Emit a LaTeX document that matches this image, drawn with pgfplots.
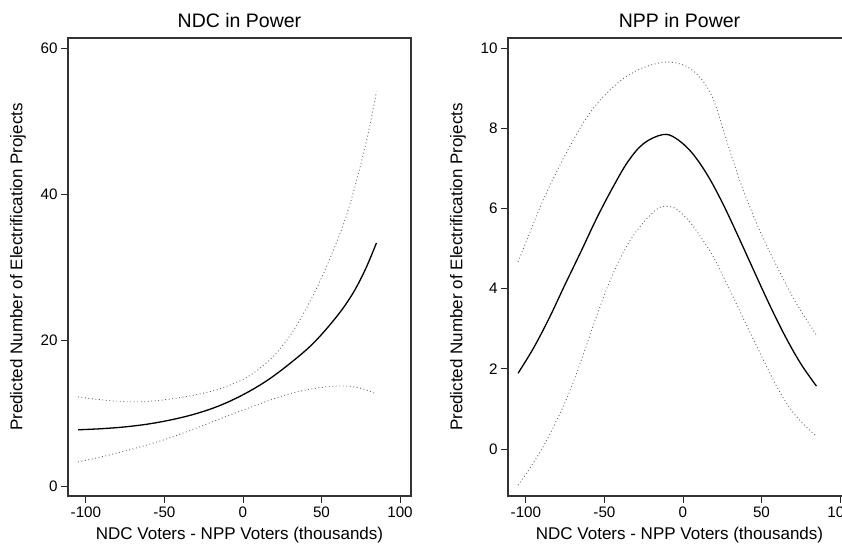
\documentclass[border=0pt]{standalone}
\usepackage{fontspec}
\setmainfont{Liberation Sans}
\usepackage{pgfplots}
\pgfplotsset{compat=1.18}

% predicted counts and 95% bounds
\pgfplotstableread{
x    fit
-105 7.7
-90  7.85
-75  8.1
-60  8.5
-45  9.1
-30  9.9
-15  11.0
0    12.5
15   14.4
30   16.8
45   19.6
60   23.3
70   26.4
78   29.7
85   33.3
}\ndcfit

\pgfplotstableread{
x    hi
-105 12.2
-90  11.8
-75  11.55
-60  11.6
-45  11.95
-30  12.5
-15  13.3
0    14.6
10   16.0
20   17.9
30   20.6
40   24.2
50   28.5
60   33.6
67   37.8
74   43.2
80   48.6
85   54.0
}\ndchi

\pgfplotstableread{
x    lo
-105 3.3
-90  4.0
-75  4.8
-60  5.7
-48  6.5
-35  7.5
-20  8.75
-5   10.0
5    10.8
19   11.9
30   12.65
40   13.15
50   13.5
60   13.7
70   13.6
78   13.2
85   12.6
}\ndclo

\pgfplotstableread{
x    fit
-105 1.89
-95  2.53
-85  3.28
-75  4.11
-65  4.92
-55  5.75
-45  6.5
-35  7.17
-25  7.62
-13  7.84
-5   7.76
5    7.42
15   6.87
25   6.15
35   5.32
45   4.46
55   3.61
65   2.82
75   2.13
85   1.57
}\nppfit

\pgfplotstableread{
x    hi
-105 4.67
-97  5.45
-89  6.21
-80  6.95
-72  7.55
-64  8.1
-56  8.55
-46  8.97
-36  9.29
-24  9.53
-11  9.65
0    9.58
8    9.38
15   9.05
20   8.65
25   8.05
30   7.42
35   6.83
40   6.29
50   5.35
61   4.46
72   3.65
85   2.84
}\npphi

\pgfplotstableread{
x    lo
-105 -0.9
-97  -0.45
-89  0.06
-80  0.75
-72  1.45
-64  2.3
-56  3.2
-48  4.05
-40  4.75
-32  5.3
-24  5.7
-16  6.0
-10  6.05
-4   5.98
4    5.68
12   5.25
20   4.75
30   3.95
40   3.13
50   2.32
61   1.47
72   0.82
85   0.32
}\npplo

\pgfplotsset{
  panel/.style={
    scale only axis, width=343pt, height=458pt,
    anchor=south west,
    xmin=-111.4, xmax=107,
    xtick={-100,-50,0,50,100},
    xticklabels={-100,-50,0,50,100},
    tick align=outside, xtick pos=bottom, ytick pos=left,
    major tick length=7pt,
    tick style={black!85, line width=0.9pt},
    axis line style={black!80, line width=1.1pt},
    ticklabel style={font=\fontsize{15.2}{17}\selectfont},
    label style={font=\fontsize{17}{20}\selectfont},
    title style={font=\fontsize{19.5}{23}\selectfont, at={(axis description cs:0.5,1.009)}, anchor=base},
    xlabel style={at={(axis description cs:0.5,-0.096)}, anchor=base},
    ylabel style={at={(axis description cs:-0.146,0.5)}, anchor=center},
    xlabel={NDC Voters - NPP Voters (thousands)},
    ylabel={Predicted Number of Electrification Projects},
  },
  fitline/.style={black, line width=1.3pt, smooth, tension=0.6},
  ciline/.style={black!60, line width=0.9pt, dash pattern=on 0.9pt off 2.6pt, smooth, tension=0.6},
}

\begin{document}
\begin{tikzpicture}
\useasboundingbox (0,0) rectangle (842pt,544pt);
\clip (0,0) rectangle (842pt,544pt);

\begin{axis}[panel, at={(68pt,48pt)},
  title={NDC in Power},
  ymin=-1.37, ymax=61.37,
  ytick={0,20,40,60}, yticklabels={0,20,40,60}]
\addplot[ciline] table[x=x,y=hi] {\ndchi};
\addplot[fitline] table[x=x,y=fit] {\ndcfit};
\addplot[ciline] table[x=x,y=lo] {\ndclo};
\end{axis}

\begin{axis}[panel, at={(508pt,48pt)},
  title={NPP in Power},
  ymin=-1.17, ymax=10.25,
  ytick={0,2,4,6,8,10}, yticklabels={0,2,4,6,8,10}]
\addplot[ciline] table[x=x,y=hi] {\npphi};
\addplot[fitline] table[x=x,y=fit] {\nppfit};
\addplot[ciline] table[x=x,y=lo] {\npplo};
\end{axis}
\end{tikzpicture}
\end{document}
